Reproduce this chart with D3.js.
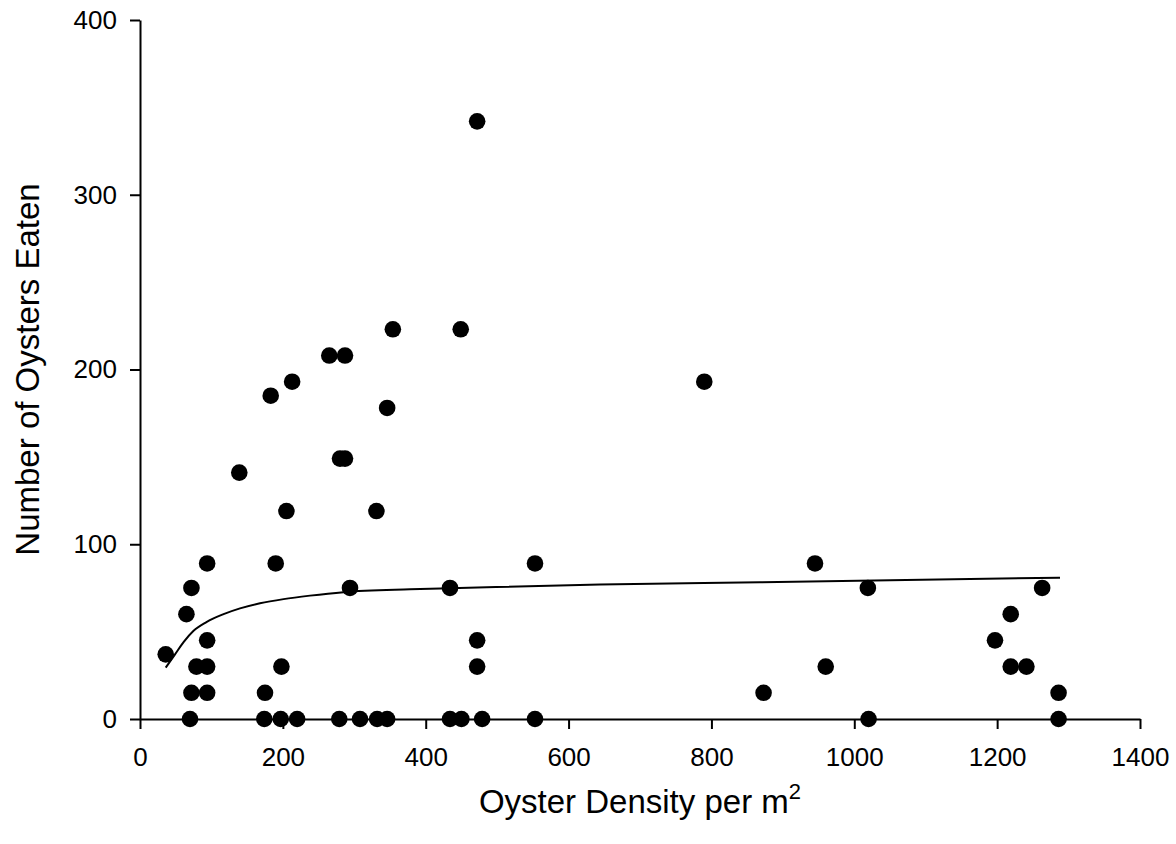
<!DOCTYPE html>
<html>
<head>
<meta charset="utf-8">
<script src="https://cdn.jsdelivr.net/npm/d3@7"></script>
<style>
  body { margin: 0; background: #fff; }
  svg { display: block; font-family: "Liberation Sans", Arial, sans-serif; }
</style>
</head>
<body>
<div id="chart"></div>
<script>
const width = 1176;
const height = 844;

// observations: density per m2 and number eaten
const density = [
  70, 174, 197, 220, 279, 308, 332, 346, 434, 450, 479, 553, 1020, 1286,
  72, 94, 175, 873, 1286,
  79, 94, 198, 472, 960, 1219, 1241,
  94, 472, 1197,
  36,
  65, 1219,
  72, 294, 434, 1019, 1263,
  94, 190, 553, 945,
  205, 331,
  139,
  280, 287,
  346,
  183,
  213, 790,
  265, 287,
  354, 449,
  472
];
const eaten = [
  0, 0, 0, 0, 0, 0, 0, 0, 0, 0, 0, 0, 0, 0,
  15, 15, 15, 15, 15,
  30, 30, 30, 30, 30, 30, 30,
  45, 45, 45,
  37,
  60, 60,
  75, 75, 75, 75, 75,
  89, 89, 89, 89,
  119, 119,
  141,
  149, 149,
  178,
  185,
  193, 193,
  208, 208,
  223, 223,
  342
];

// fitted curve
const fitX = [36, 49, 61, 75, 93, 117, 140, 168, 201, 238, 285, 378, 434, 644, 868, 1288];
const fitY = [29.4, 37.0, 44.0, 50.5, 55.5, 60.0, 63.3, 66.2, 68.6, 70.6, 72.6, 74.2, 74.8, 77.0, 78.2, 80.9];

const xTicks = [0, 200, 400, 600, 800, 1000, 1200, 1400];
const yTicks = [0, 100, 200, 300, 400];

const svg = d3.select("#chart")
    .append("svg")
    .attr("width", width)
    .attr("height", height);

const x = d3.scaleLinear().domain([0, 1400]).range([140, 1140]);
const y = d3.scaleLinear().domain([0, 400]).range([719, 20]);

const xAxis = svg.append("g")
    .attr("transform", `translate(0,${y(0)})`)
    .call(d3.axisBottom(x).tickValues(xTicks).tickFormat(d3.format("d"))
        .tickSize(10).tickSizeOuter(0).tickPadding(19));

const yAxis = svg.append("g")
    .attr("transform", `translate(${x(0)},0)`)
    .call(d3.axisLeft(y).tickValues(yTicks).tickFormat(d3.format("d"))
        .tickSize(10).tickSizeOuter(0).tickPadding(13));

[xAxis, yAxis].forEach(g => {
    g.select(".domain").attr("stroke", "#000").attr("stroke-width", 2);
    g.selectAll(".tick line").attr("stroke", "#000").attr("stroke-width", 2);
    g.selectAll(".tick text")
        .attr("fill", "#000")
        .attr("font-size", "26px")
        .attr("font-family", "Liberation Sans, Arial, sans-serif");
});

// the fitted line
const line = d3.line()
    .x(d => x(d[0]))
    .y(d => y(d[1]))
    .curve(d3.curveMonotoneX);

svg.append("path")
    .datum(fitX.map((v, i) => [v, fitY[i]]))
    .attr("d", line)
    .attr("fill", "none")
    .attr("stroke", "#000")
    .attr("stroke-width", 2);

svg.selectAll("circle.pt")
    .data(density.map((v, i) => [v, eaten[i]]))
    .enter()
    .append("circle")
    .attr("class", "pt")
    .attr("cx", d => x(d[0]))
    .attr("cy", d => y(d[1]))
    .attr("r", 8.3)
    .attr("fill", "#000");

// axis titles
svg.append("text")
    .attr("transform", `translate(39,${(y(0) + y(400)) / 2}) rotate(-90)`)
    .attr("text-anchor", "middle")
    .attr("font-size", "33px")
    .attr("fill", "#000")
    .text("Number of Oysters Eaten");

const xt = svg.append("text")
    .attr("x", (x(0) + x(1400)) / 2)
    .attr("y", 813)
    .attr("text-anchor", "middle")
    .attr("font-size", "33px")
    .attr("fill", "#000");
xt.append("tspan").text("Oyster Density per m");
xt.append("tspan").attr("font-size", "22px").attr("dy", "-14").text("2");
</script>
</body>
</html>
